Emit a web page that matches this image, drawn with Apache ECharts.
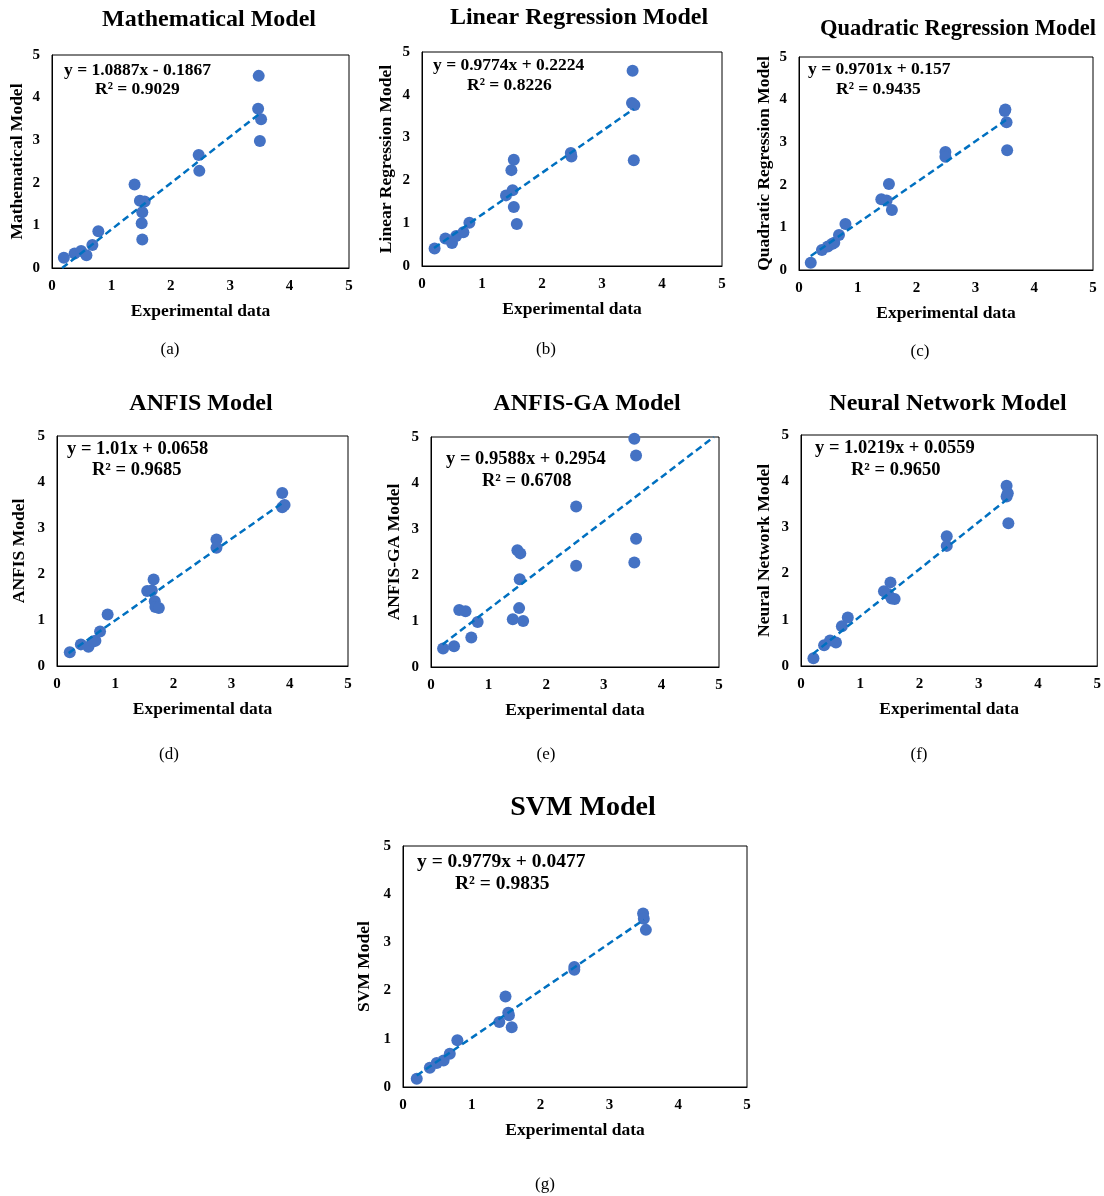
<!DOCTYPE html>
<html>
<head>
<meta charset="utf-8">
<script src="https://cdn.jsdelivr.net/npm/echarts@6/dist/echarts.min.js"></script>
<style>
  html, body { margin: 0; padding: 0; background: #fff; }
  #main { width: 1104px; height: 1196px; }
</style>
</head>
<body>
<div id="main"></div>
<script>
// values, one pair of arrays per panel
const expA = [0.20, 0.38, 0.49, 0.58, 0.68, 0.78, 1.39, 1.48, 1.56, 1.52, 1.51, 1.52, 2.47, 2.48, 3.48, 3.47, 3.52, 3.50];
const mathModel = [0.24, 0.34, 0.40, 0.30, 0.54, 0.86, 1.96, 1.58, 1.56, 1.31, 1.05, 0.67, 2.65, 2.28, 4.51, 3.74, 3.49, 2.98];

const expB = [0.21, 0.39, 0.50, 0.57, 0.69, 0.79, 1.40, 1.51, 1.49, 1.53, 1.53, 1.58, 2.48, 2.49, 3.51, 3.50, 3.54, 3.53];
const linRegModel = [0.41, 0.64, 0.54, 0.70, 0.79, 1.01, 1.65, 1.77, 2.24, 2.48, 1.38, 0.98, 2.64, 2.56, 4.56, 3.81, 3.76, 2.47];

const expC = [0.20, 0.39, 0.49, 0.56, 0.60, 0.68, 0.79, 1.40, 1.49, 1.53, 1.58, 2.49, 2.49, 3.51, 3.50, 3.53, 3.54];
const quadRegModel = [0.17, 0.47, 0.55, 0.61, 0.64, 0.82, 1.08, 1.66, 1.63, 2.02, 1.41, 2.77, 2.66, 3.77, 3.73, 3.47, 2.81];

const expD = [0.22, 0.41, 0.54, 0.62, 0.66, 0.74, 0.87, 1.55, 1.63, 1.66, 1.68, 1.69, 1.75, 2.74, 2.74, 3.87, 3.87, 3.91];
const anfisModel = [0.30, 0.47, 0.42, 0.53, 0.55, 0.75, 1.12, 1.63, 1.64, 1.88, 1.41, 1.28, 1.26, 2.75, 2.57, 3.76, 3.45, 3.50];

const expE = [0.21, 0.40, 0.49, 0.60, 0.70, 0.81, 1.42, 1.53, 1.60, 1.54, 1.50, 1.55, 2.52, 2.52, 3.53, 3.56, 3.56, 3.53];
const anfisGaModel = [0.40, 0.45, 1.24, 1.21, 0.64, 0.98, 1.04, 1.28, 1.00, 1.91, 2.54, 2.47, 3.49, 2.20, 4.96, 4.60, 2.79, 2.27];

const expF = [0.21, 0.39, 0.49, 0.59, 0.69, 0.79, 1.40, 1.47, 1.51, 1.53, 1.58, 2.46, 2.46, 3.47, 3.47, 3.49, 3.50];
const nnModel = [0.17, 0.45, 0.55, 0.51, 0.86, 1.05, 1.62, 1.56, 1.81, 1.46, 1.45, 2.81, 2.60, 3.90, 3.67, 3.74, 3.09];

const expG = [0.20, 0.39, 0.49, 0.59, 0.68, 0.79, 1.40, 1.49, 1.53, 1.54, 1.58, 2.49, 2.49, 3.49, 3.50, 3.53];
const svmModel = [0.17, 0.40, 0.50, 0.55, 0.69, 0.97, 1.35, 1.88, 1.54, 1.49, 1.24, 2.49, 2.43, 3.60, 3.49, 3.26];

// dashed trend line end points as drawn: [x0, y0, x1, y1]
const trendA = [0.17, 0.00, 3.52, 3.65];
const trendB = [0.20, 0.42, 3.53, 3.67];
const trendC = [0.20, 0.33, 3.52, 3.52];
const trendD = [0.20, 0.28, 3.88, 3.55];
const trendE = [0.20, 0.49, 4.91, 5.00];
const trendF = [0.20, 0.26, 3.50, 3.63];
const trendG = [0.20, 0.24, 3.50, 3.47];

const axisTicks = [0, 1, 2, 3, 4, 5];

const FONT = '"Liberation Serif", "Times New Roman", serif';

const panels = [
  { x: expA, y: mathModel, t: trendA, title: 'Mathematical Model', yName: 'Mathematical Model',
    eq: ['y = 1.0887x - 0.1867', 'R² = 0.9029'], cap: '(a)',
    grid: [52, 55, 297, 213], tpos: [209, 20], eqpos: [64, 70, 95, 89], cpos: [170, 350], gap: 26, ts: 24, es: 17.5 },
  { x: expB, y: linRegModel, t: trendB, title: 'Linear Regression Model', yName: 'Linear Regression Model',
    eq: ['y = 0.9774x + 0.2224', 'R² = 0.8226'], cap: '(b)',
    grid: [422, 52, 300, 214], tpos: [579, 18], eqpos: [433, 65, 467, 85], cpos: [546, 350], gap: 27, ts: 24, es: 17.5 },
  { x: expC, y: quadRegModel, t: trendC, title: 'Quadratic Regression Model', yName: 'Quadratic Regression Model',
    eq: ['y = 0.9701x + 0.157', 'R² = 0.9435'], cap: '(c)',
    grid: [799, 57, 294, 213], tpos: [958, 29], eqpos: [808, 69, 836, 89], cpos: [920, 352], gap: 26, ts: 22.5, es: 17.5 },
  { x: expD, y: anfisModel, t: trendD, title: 'ANFIS Model', yName: 'ANFIS Model',
    eq: ['y = 1.01x + 0.0658', 'R² = 0.9685'], cap: '(d)',
    grid: [57, 436, 291, 230], tpos: [201, 404], eqpos: [67, 449, 92, 470], cpos: [169, 755], gap: 29, ts: 24, es: 18.5 },
  { x: expE, y: anfisGaModel, t: trendE, title: 'ANFIS-GA Model', yName: 'ANFIS-GA Model',
    eq: ['y = 0.9588x + 0.2954', 'R² = 0.6708'], cap: '(e)',
    grid: [431, 437, 288, 230], tpos: [587, 404], eqpos: [446, 459, 482, 481], cpos: [546, 755], gap: 28, ts: 24, es: 18.5 },
  { x: expF, y: nnModel, t: trendF, title: 'Neural Network Model', yName: 'Neural Network Model',
    eq: ['y = 1.0219x + 0.0559', 'R² = 0.9650'], cap: '(f)',
    grid: [801, 435, 297, 231], tpos: [948, 404], eqpos: [815, 448, 851, 470], cpos: [919, 755], gap: 28, ts: 24, es: 18.5 },
  { x: expG, y: svmModel, t: trendG, title: 'SVM Model', yName: 'SVM Model',
    eq: ['y = 0.9779x + 0.0477', 'R² = 0.9835'], cap: '(g)',
    grid: [403, 846, 344, 241], tpos: [583, 808], eqpos: [417, 862, 455, 884], cpos: [545, 1185], gap: 30, ts: 28, es: 19.5 }
];

const grid = [], xAxis = [], yAxis = [], series = [], graphic = [];

panels.forEach((p, i) => {
  grid.push({
    left: p.grid[0], top: p.grid[1], width: p.grid[2], height: p.grid[3],
    show: true, borderColor: '#000', borderWidth: 1, backgroundColor: 'transparent'
  });
  const axisCommon = {
    gridIndex: i, type: 'value', min: axisTicks[0], max: axisTicks[axisTicks.length - 1], interval: 1,
    splitLine: { show: false },
    axisTick: { show: false },
    axisLine: { show: true, onZero: false, lineStyle: { color: '#000', width: 1 } },
    axisLabel: { color: '#000', fontFamily: FONT, fontWeight: 'bold', fontSize: 15 },
    nameLocation: 'middle',
    nameTextStyle: { color: '#000', fontFamily: FONT, fontWeight: 'bold', fontSize: 17.5 }
  };
  xAxis.push(Object.assign({}, axisCommon, {
    name: 'Experimental data', nameGap: 34,
    axisLabel: Object.assign({}, axisCommon.axisLabel, { margin: 11 })
  }));
  yAxis.push(Object.assign({}, axisCommon, {
    name: p.yName, nameGap: p.gap,
    axisLabel: Object.assign({}, axisCommon.axisLabel, { margin: 12 })
  }));
  series.push({
    type: 'line', xAxisIndex: i, yAxisIndex: i, symbol: 'none', silent: true, z: 3,
    lineStyle: { color: '#0070C0', width: 2.5, type: [7, 4] },
    data: [[p.t[0], p.t[1]], [p.t[2], p.t[3]]]
  });
  series.push({
    type: 'scatter', xAxisIndex: i, yAxisIndex: i, symbolSize: 12, clip: false, z: 2,
    itemStyle: { color: '#4472C4', opacity: 1 },
    data: p.x.map((v, k) => [v, p.y[k]])
  });
  graphic.push({
    type: 'text', x: p.tpos[0], y: p.tpos[1],
    style: { text: p.title, fill: '#000', font: 'bold ' + p.ts + 'px ' + FONT, align: 'center', verticalAlign: 'middle' }
  });
  graphic.push({
    type: 'text', x: p.eqpos[0], y: p.eqpos[1], z: 10,
    style: { text: p.eq[0], fill: '#000', font: 'bold ' + p.es + 'px ' + FONT, align: 'left', verticalAlign: 'middle' }
  });
  graphic.push({
    type: 'text', x: p.eqpos[2], y: p.eqpos[3], z: 10,
    style: { text: p.eq[1], fill: '#000', font: 'bold ' + p.es + 'px ' + FONT, align: 'left', verticalAlign: 'middle' }
  });
  graphic.push({
    type: 'text', x: p.cpos[0], y: p.cpos[1],
    style: { text: p.cap, fill: '#000', font: '17px ' + FONT, align: 'center', verticalAlign: 'middle' }
  });
});

const chart = echarts.init(document.getElementById('main'), null, { renderer: 'canvas' });
chart.setOption({
  backgroundColor: '#fff',
  animation: false,
  grid, xAxis, yAxis, series, graphic
});
</script>
</body>
</html>
